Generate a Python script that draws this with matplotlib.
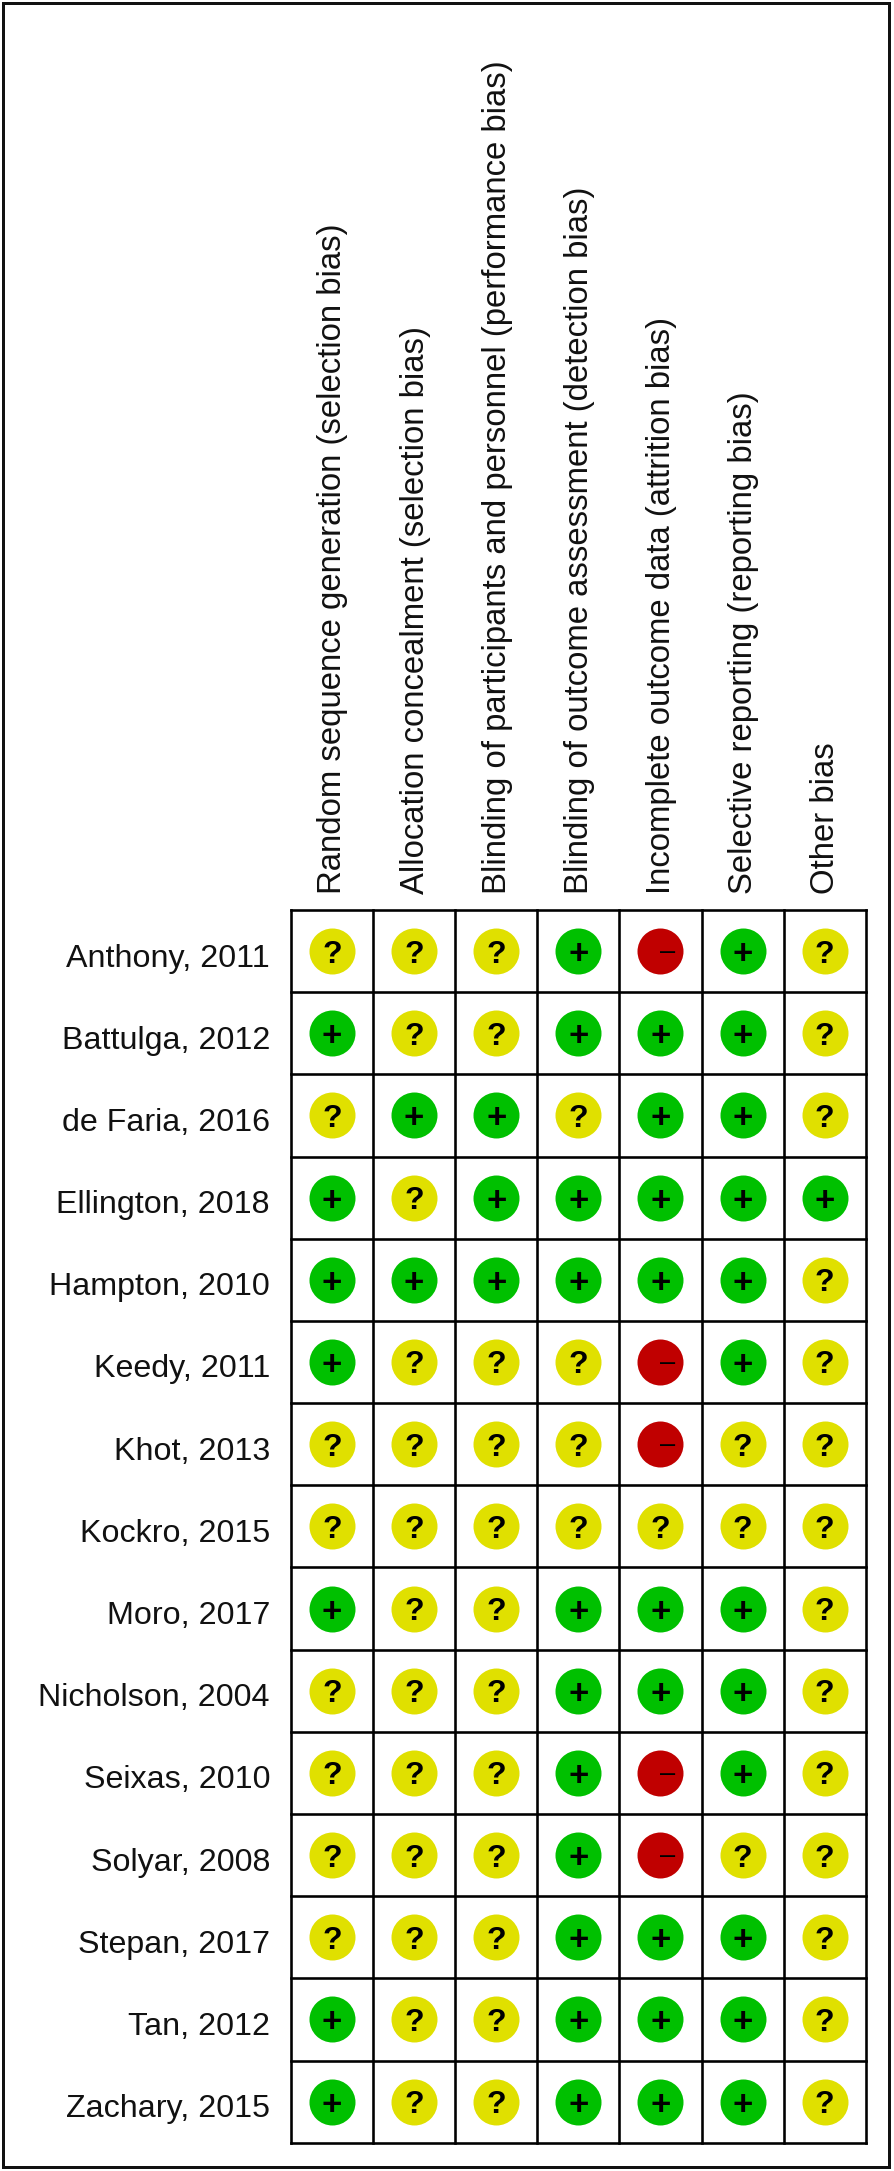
import matplotlib
matplotlib.use("Agg")
import matplotlib.pyplot as plt
from matplotlib.patches import Rectangle

plt.rcParams['font.family'] = ['Liberation Sans', 'DejaVu Sans']

studies = ["Anthony, 2011", "Battulga, 2012", "de Faria, 2016", "Ellington, 2018",
           "Hampton, 2010", "Keedy, 2011", "Khot, 2013", "Kockro, 2015", "Moro, 2017",
           "Nicholson, 2004", "Seixas, 2010", "Solyar, 2008", "Stepan, 2017",
           "Tan, 2012", "Zachary, 2015"]
domains = ["Random sequence generation (selection bias)",
           "Allocation concealment (selection bias)",
           "Blinding of participants and personnel (performance bias)",
           "Blinding of outcome assessment (detection bias)",
           "Incomplete outcome data (attrition bias)",
           "Selective reporting (reporting bias)",
           "Other bias"]
ratings = ["???+-+?", "+??+++?", "?++?++?", "+?+++++", "++++++?",
           "+???-+?", "????-??", "???????", "+??+++?", "???+++?",
           "???+-+?", "???+-??", "???+++?", "+??+++?", "+??+++?"]
colors = {"+": "#00c000", "?": "#e0e000", "-": "#c00000"}
W, H = 894, 2171
GL, GT, CW, CH = 290.8, 910.0, 82.15, 82.18

fig = plt.figure(figsize=(W / 100, H / 100), dpi=100)
ax = fig.add_axes([0, 0, 1, 1])
ax.set_xlim(0, W)
ax.set_ylim(H, 0)
ax.axis("off")
PX = 72 / 100

ax.add_patch(Rectangle((3, 2.5), 886, 2164.5, fill=False, ec="#111111", lw=3 * PX))

n_r, n_c = len(studies), len(domains)
for i in range(n_c + 1):
    x = GL + i * CW
    ax.plot([x, x], [GT, GT + n_r * CH], color="black", lw=2.6 * PX, solid_capstyle="projecting")
for j in range(n_r + 1):
    y = GT + j * CH
    ax.plot([GL, GL + n_c * CW], [y, y], color="black", lw=2.6 * PX, solid_capstyle="projecting")

for j, name in enumerate(studies):
    cy = GT + (j + 0.5) * CH
    ax.text(270, cy + 7.5, name, ha="right", va="center", fontsize=23.2, color="#111111")
    for i, r in enumerate(ratings[j]):
        cx = GL + (i + 0.5) * CW
        ax.plot([cx], [cy], "o", ms=46 * PX, mfc=colors[r], mec="none")
        if r == "+":
            ax.text(cx, cy, "+", ha="center", va="center_baseline", fontsize=25, fontweight="bold", color="black")
        elif r == "?":
            ax.text(cx, cy, "?", ha="center", va="center_baseline", fontsize=23, fontweight="bold", color="black")
        else:
            ax.text(cx, cy - 2, "\u2013", ha="left", va="center_baseline", fontsize=19.5, color="black")

for i, d in enumerate(domains):
    cx = GL + (i + 0.5) * CW + 1
    ax.text(cx, 894, d, rotation=90, ha="center", va="bottom", fontsize=23.7, color="#111111")

fig.savefig("out.png", dpi=100, facecolor="white")
